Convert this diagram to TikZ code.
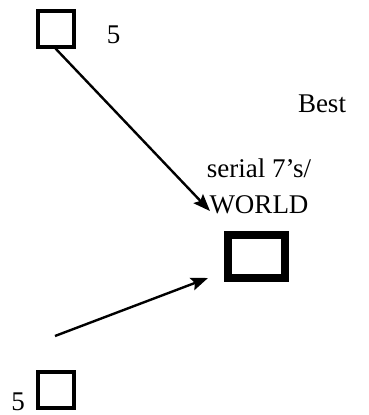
\documentclass[tikz,border=0pt]{standalone}
\usepackage{fontspec}
\setmainfont{Liberation Serif}
\usetikzlibrary{arrows.meta,positioning}

\begin{document}
\begin{tikzpicture}[
    x=1pt, y=-1pt,
    box/.style={rectangle, draw=black, line width=4pt, minimum width=36pt, minimum height=36pt, inner sep=0pt},
    bigbox/.style={rectangle, draw=black, line width=8pt, minimum width=57pt, minimum height=43pt, inner sep=0pt},
    lbl/.style={inner sep=0pt, anchor=base, font=\fontsize{27}{36}\selectfont, align=center},
    arrow/.style={-{Stealth[length=17pt, width=13pt, inset=3pt]}, line width=2.4pt, black}
]
\useasboundingbox (0,0) rectangle (369,415);

\node[box] (top) at (55.5,28.5) {};
\node[lbl] (topnum) at (113.5,43) {5};
\node[lbl] (best) at (322,112) {Best};
\node[lbl] (serial) at (259,177) {serial 7’s/};
\node[lbl] (world) at (259,213) {WORLD};
\node[bigbox] (world box) at (256.5,256.5) {};
\node[box] (bottom) at (55.5,390) {};
\node[lbl] (botnum) at (18,410) {5};

\coordinate (tip1) at (210,211);
\coordinate (start2) at (55,336);
\coordinate (tip2) at (208,278);

\draw[arrow] (top.south) -- (tip1);
\draw[arrow] (start2) -- (tip2);

\end{tikzpicture}
\end{document}
